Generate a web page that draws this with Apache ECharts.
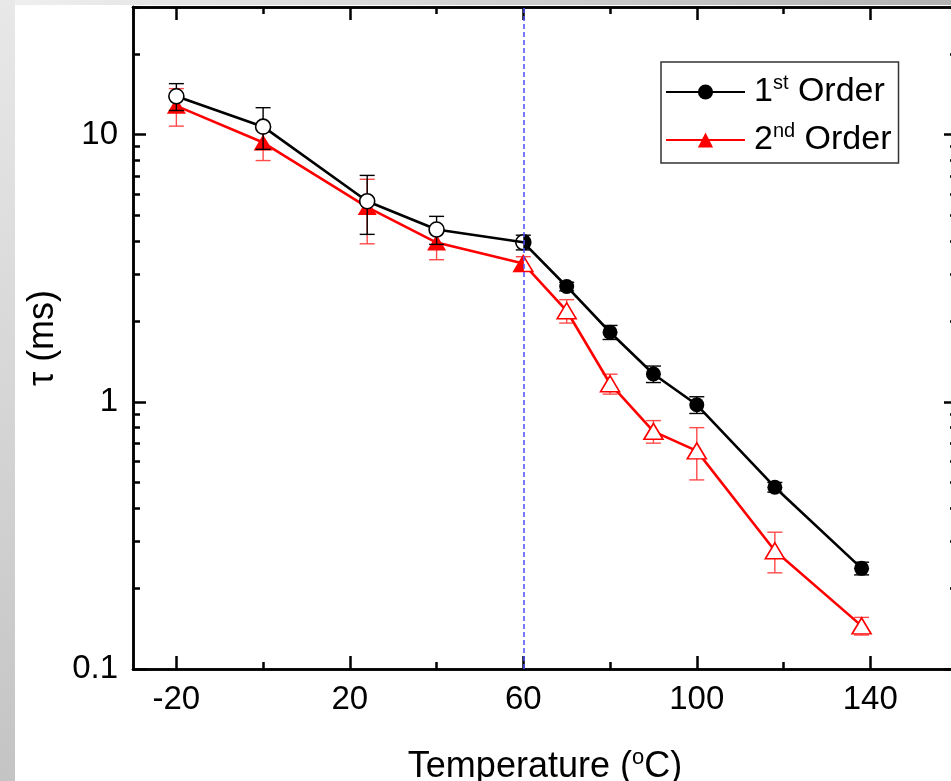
<!DOCTYPE html>
<html>
<head>
<meta charset="utf-8">
<script src="https://cdn.jsdelivr.net/npm/echarts@6/dist/echarts.min.js"></script>
<style>html,body{margin:0;padding:0;background:#fff;overflow:hidden}#c{width:951px;height:781px}</style>
</head>
<body>
<div id="c"></div>
<script>
// ---- data ----
const temperature = [-20, 0, 24, 40, 60, 70, 80, 90, 100, 118, 138];
const tau1st = [13.9, 10.7, 5.63, 4.41, 3.95, 2.70, 1.82, 1.27, 0.974, 0.479, 0.238];
const err1st = [1.6, 1.9, 1.4, 0.53, 0.25, 0.1, 0.11, 0.09, 0.07, 0.02, 0.013];
const tau2nd = [12.8, 9.33, 5.35, 3.94, 3.29, 2.19, 1.168, 0.775, 0.655, 0.277, 0.145];
const err2nd = [2.05, 1.34, 1.45, 0.54, 0.2, 0.22, 0.1, 0.075, 0.145, 0.048, 0.011];
const transitionT = 60;
const xMajorTicks = [-20, 20, 60, 100, 140];
const xMinorTicks = [0, 40, 80, 120];
const yMajorTicks = [0.1, 1, 10];
const yMinorTicks = [0.2, 0.3, 0.4, 0.5, 0.6, 0.7, 0.8, 0.9, 2, 3, 4, 5, 6, 7, 8, 9, 20, 30];
const seriesNames = ['1st Order', '2nd Order'];

const FONT = '"Liberation Sans", Arial, sans-serif';
const chart = echarts.init(document.getElementById('c'), null, {renderer: 'canvas'});

function xAxisDef(pos, ticks, len, w, withLabels) {
  const a = {
    type: 'value', position: pos, min: -30, max: 160,
    axisLine: {show: true, onZero: false, lineStyle: {color: '#000', width: 2.5}},
    axisTick: {show: true, inside: true, length: len, customValues: ticks, lineStyle: {color: '#000', width: w}},
    axisLabel: {show: false},
    splitLine: {show: false}
  };
  if (withLabels) {
    a.axisLabel = {show: true, customValues: ticks, margin: 14, fontSize: 33, fontFamily: FONT, color: '#000'};
    a.name = 'Temperature ({s|o}C)';
    a.nameLocation = 'middle';
    a.nameGap = 78;
    a.nameTextStyle = {fontSize: 36, fontFamily: FONT, color: '#000', lineHeight: 40,
      rich: {s: {fontSize: 22, lineHeight: 26, verticalAlign: 'top', fontFamily: FONT, color: '#000'}}};
  }
  return a;
}
function yAxisDef(pos, ticks, len, w, withLabels) {
  const a = {
    type: 'log', logBase: 10, position: pos, min: 0.1, max: 30,
    axisLine: {show: true, onZero: false, lineStyle: {color: '#000', width: 2.5}},
    axisTick: {show: true, inside: true, length: len, customValues: ticks, lineStyle: {color: '#000', width: w}},
    axisLabel: {show: false},
    splitLine: {show: false}
  };
  if (withLabels) {
    a.axisLabel = {show: true, customValues: ticks, margin: 15, fontSize: 33, fontFamily: FONT, color: '#000'};
    a.name = '\u03C4 (ms)';
    a.nameLocation = 'middle';
    a.nameRotate = 90;
    a.nameGap = 70;
    a.nameTextStyle = {fontSize: 36, fontFamily: FONT, color: '#000'};
  }
  return a;
}

function pointItem(t, v, kind) {
  // black: open below the transition, filled above; red: the opposite
  const item = {value: [t, v]};
  if (t === transitionT) { item.symbol = 'none'; return item; }
  const open = kind === 'black' ? t < transitionT : t > transitionT;
  if (open) {
    item.itemStyle = {color: '#fff', borderColor: kind === 'black' ? '#000' : '#ff0000', borderWidth: 1.6};
  }
  return item;
}

function errRender(color) {
  return function (params, api) {
    const x = api.value(0), lo = api.value(1), hi = api.value(2);
    const top = api.coord([x, hi]), bot = api.coord([x, lo]);
    const hw = 7.5;
    const st = {stroke: color, lineWidth: 1.4};
    return {type: 'group', children: [
      {type: 'line', shape: {x1: top[0], y1: top[1], x2: bot[0], y2: bot[1]}, style: st},
      {type: 'line', shape: {x1: top[0] - hw, y1: top[1], x2: top[0] + hw, y2: top[1]}, style: st},
      {type: 'line', shape: {x1: bot[0] - hw, y1: bot[1], x2: bot[0] + hw, y2: bot[1]}, style: st}
    ]};
  };
}

function halfRender(params, api) {
  const x = api.value(0), v1 = api.value(1), v2 = api.value(2);
  const c1 = api.coord([x, v1]), c2 = api.coord([x, v2]);
  const r = 7.5, tw = 9.5, th = 8;
  return {type: 'group', children: [
    {type: 'polygon', shape: {points: [[c2[0], c2[1] - th], [c2[0] + tw, c2[1] + th], [c2[0] - tw, c2[1] + th]]},
      style: {fill: '#fff', stroke: '#ff0000', lineWidth: 1.6}},
    {type: 'polygon', shape: {points: [[c2[0], c2[1] - th], [c2[0], c2[1] + th], [c2[0] - tw, c2[1] + th]]},
      style: {fill: '#ff0000', stroke: '#ff0000', lineWidth: 1}},
    {type: 'circle', shape: {cx: c1[0], cy: c1[1], r: r}, style: {fill: '#fff', stroke: '#000', lineWidth: 1.6}},
    {type: 'sector', shape: {cx: c1[0], cy: c1[1], r0: 0, r: r, startAngle: -Math.PI / 2, endAngle: Math.PI / 2, clockwise: true},
      style: {fill: '#000'}}
  ]};
}

const idx60 = temperature.indexOf(transitionT);

const option = {
  animation: false,
  backgroundColor: '#fff',
  grid: {left: 133, right: -6, top: 7, bottom: 112, containLabel: false, outerBoundsMode: 'none'},
  graphic: [
    {type: 'rect', silent: true, z: 100, shape: {x: 0, y: 0, width: 15, height: 781},
      style: {fill: new echarts.graphic.LinearGradient(0, 0, 0, 1, [{offset: 0, color: '#e8e8e8'}, {offset: 1, color: '#c4c4c4'}])}},
    {type: 'rect', silent: true, z: 100, shape: {x: 15, y: 0, width: 936, height: 5},
      style: {fill: new echarts.graphic.LinearGradient(0, 0, 1, 0, [{offset: 0, color: '#efefef'}, {offset: 1, color: '#b2b2b2'}])}}
  ],
  legend: {
    data: seriesNames,
    orient: 'vertical', left: 661, top: 62,
    itemWidth: 79, itemHeight: 19, itemGap: 12,
    padding: [11, 7, 6, 4],
    backgroundColor: '#fff', borderColor: '#333', borderWidth: 1.5, borderRadius: 0,
    selectedMode: false,
    formatter: function (name) {
      return name === seriesNames[0] ? '{m|1}{s|st}{m| Order}' : '{m|2}{s|nd}{m| Order}';
    },
    textStyle: {fontSize: 34, fontFamily: FONT, color: '#000', padding: [0, 0, 0, 4],
      rich: {
        m: {fontSize: 34, lineHeight: 38, fontFamily: FONT, color: '#000'},
        s: {fontSize: 20, lineHeight: 24, verticalAlign: 'top', fontFamily: FONT, color: '#000'}
      }}
  },
  xAxis: [
    xAxisDef('bottom', xMajorTicks, 13, 2.5, true),
    xAxisDef('bottom', xMinorTicks, 7, 2.5, false),
    xAxisDef('top', xMajorTicks, 13, 2.5, false),
    xAxisDef('top', xMinorTicks, 7, 2.5, false)
  ],
  yAxis: [
    yAxisDef('left', yMajorTicks, 13, 2.5, true),
    yAxisDef('left', yMinorTicks, 7, 2.5, false),
    yAxisDef('right', yMajorTicks, 13, 2.5, false),
    yAxisDef('right', yMinorTicks, 7, 2.5, false)
  ],
  series: [
    {
      name: 'err2', type: 'custom', z: 1, silent: true,
      renderItem: errRender('#ff4a4a'),
      encode: {x: 0, y: [1, 2]},
      data: temperature.map((t, i) => [t, tau2nd[i] - err2nd[i], tau2nd[i] + err2nd[i]])
    },
    {
      name: seriesNames[1], type: 'line', z: 2,
      symbol: 'triangle', symbolSize: [19, 16],
      lineStyle: {color: '#ff0000', width: 2.6},
      itemStyle: {color: '#ff0000'},
      data: temperature.map((t, i) => pointItem(t, tau2nd[i], 'red'))
    },
    {
      name: 'err1', type: 'custom', z: 3, silent: true,
      renderItem: errRender('#000'),
      encode: {x: 0, y: [1, 2]},
      data: temperature.map((t, i) => [t, tau1st[i] - err1st[i], tau1st[i] + err1st[i]])
    },
    {
      name: seriesNames[0], type: 'line', z: 4,
      symbol: 'circle', symbolSize: 15,
      lineStyle: {color: '#000', width: 2.6},
      itemStyle: {color: '#000'},
      data: temperature.map((t, i) => pointItem(t, tau1st[i], 'black'))
    },
    {
      name: 'half', type: 'custom', z: 4, silent: true,
      renderItem: halfRender,
      encode: {x: 0, y: [1, 2]},
      data: [[transitionT, tau1st[idx60], tau2nd[idx60]]],
      markLine: {
        silent: true, symbol: ['none', 'none'], label: {show: false}, z: 6,
        lineStyle: {color: '#4d4dff', type: [5, 3], width: 1.5, opacity: 1},
        emphasis: {disabled: true},
        data: [{xAxis: transitionT}]
      }
    }
  ]
};
chart.setOption(option);
</script>
</body>
</html>
